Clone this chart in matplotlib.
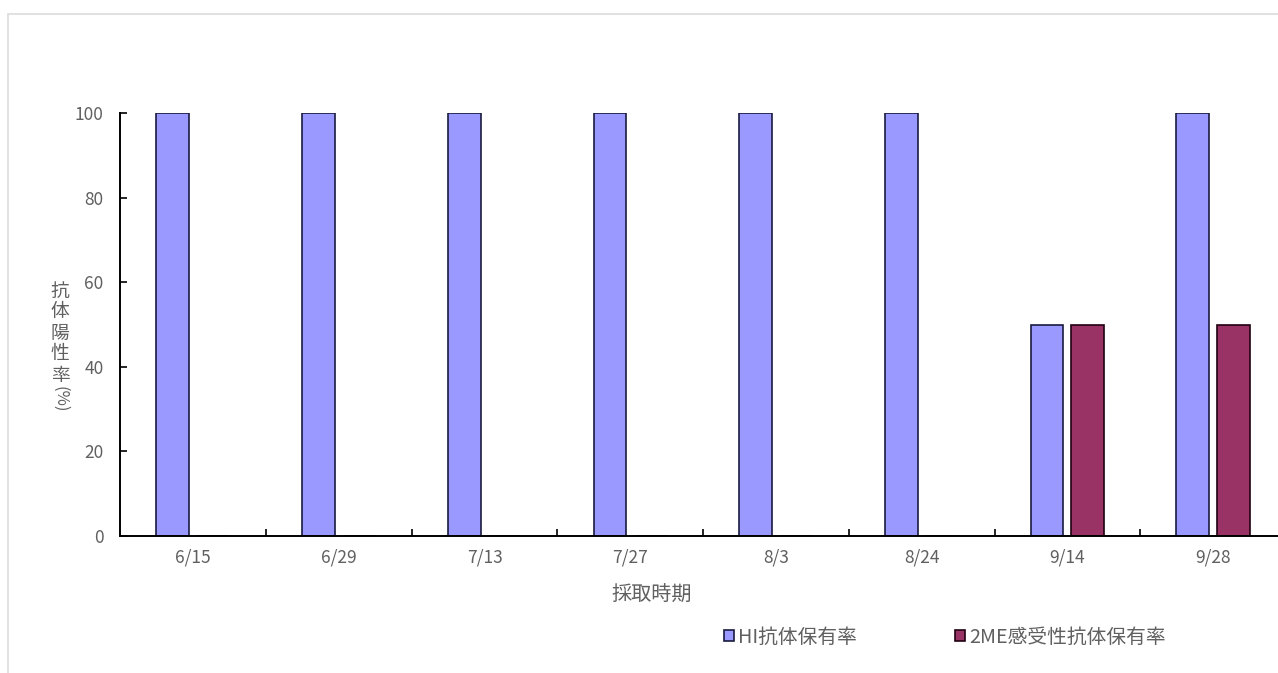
import matplotlib
matplotlib.use("Agg")
import matplotlib.pyplot as plt
import numpy as np
from matplotlib.patches import Rectangle

plt.rcParams['font.family'] = ['Noto Sans CJK JP', 'DejaVu Sans']

# data
dates = ['6/15', '6/29', '7/13', '7/27', '8/3', '8/24', '9/14', '9/28']
hi_rate = [100, 100, 100, 100, 100, 100, 50, 100]
me_rate = [0, 0, 0, 0, 0, 0, 50, 50]
series_names = ['HI抗体保有率', '2ME感受性抗体保有率']
yticks = [0, 20, 40, 60, 80, 100]

txt_col = '#606060'

fig = plt.figure(figsize=(12.78, 6.73), dpi=100)

# light outer frame of the chart area
fig.patches.append(Rectangle((8 / 1278, -0.1), 1.2, 1 - 14 / 673 + 0.1,
                             transform=fig.transFigure, fill=False,
                             edgecolor='#dcdcdc', linewidth=1.2))

ax = fig.add_axes([120.4 / 1278, 1 - 536 / 673, (1286 - 120.4) / 1278, (536 - 113) / 673])

x = np.arange(len(dates))
w = 0.225
b1 = ax.bar(x - 0.14, hi_rate, w, color='#9999FF', edgecolor='#1a1a40', linewidth=1.2,
            label=series_names[0])
b2 = ax.bar(x + 0.14, me_rate, w, color='#993366', edgecolor='#200010', linewidth=1.2,
            label=series_names[1])

ax.set_xlim(-0.5, len(dates) - 0.5)
ax.set_ylim(0, 100)
ax.set_yticks(yticks)
ax.set_yticklabels([str(v) for v in yticks])

# boundaries get tick marks, centres get labels
ax.set_xticks(x[:-1] + 0.5)
ax.set_xticklabels([])
ax.set_xticks(x, minor=True)
ax.set_xticklabels(dates, minor=True)
ax.tick_params(axis='x', which='major', direction='in', length=5, width=1.2, color='black')
ax.tick_params(axis='x', which='minor', length=0, pad=9, labelsize=12.5, labelcolor=txt_col)
ax.tick_params(axis='y', direction='in', length=5, width=1.2, pad=12, labelsize=12.5,
               labelcolor=txt_col)

for s in ['top', 'right']:
    ax.spines[s].set_visible(False)
for s in ['left', 'bottom']:
    ax.spines[s].set_linewidth(1.4)
    ax.spines[s].set_color('black')

fig.text(652 / 1278, 1 - 595 / 673, '採取時期', ha='center', va='center',
         fontsize=14.5, color=txt_col)

# stacked vertical y label
fig.text(60 / 1278, 1 - 333 / 673, '\n'.join('抗体陽性率'), ha='center', va='center',
         fontsize=13.5, color=txt_col, linespacing=1.0)
fig.text(60 / 1278, 1 - 399 / 673, '(%)', ha='center', va='center', rotation=270,
         fontsize=12, color=txt_col)

fig.legend(handles=[b1, b2], loc='center left', bbox_to_anchor=(714 / 1278, 1 - 637 / 673),
           ncol=2, frameon=False, fontsize=14.2, handlelength=0.5, handleheight=0.5,
           handletextpad=0.2, columnspacing=5.0, labelcolor=txt_col, borderpad=0)

fig.savefig('out.png', dpi=100)
